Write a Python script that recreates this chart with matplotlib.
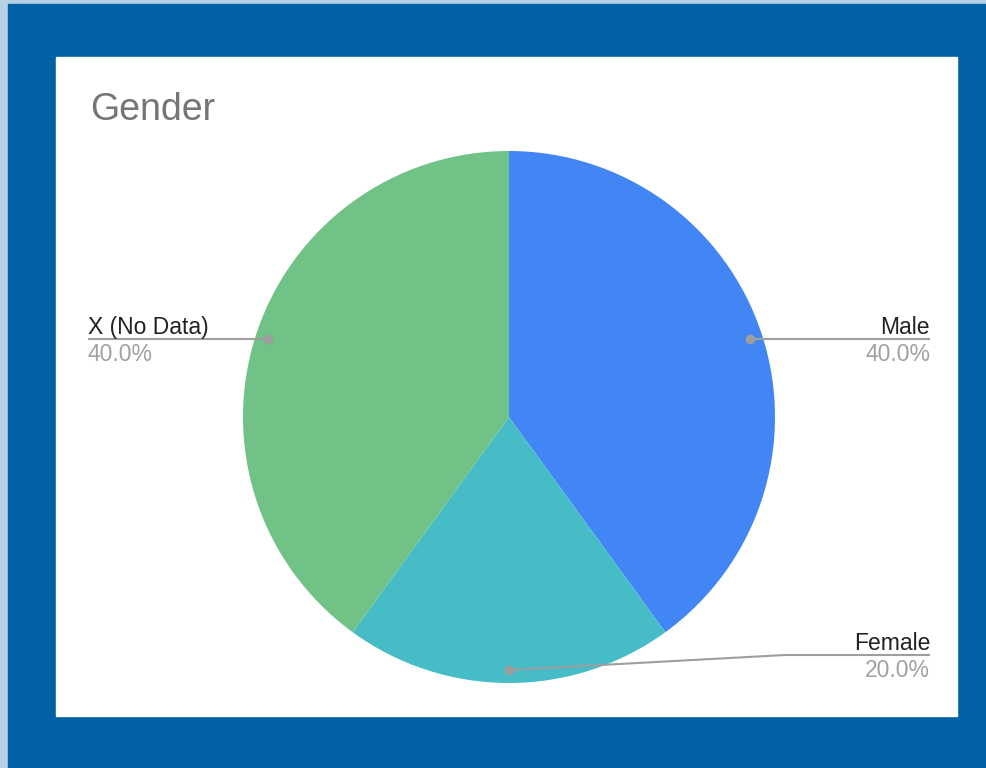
import matplotlib
matplotlib.use("Agg")
import matplotlib.pyplot as plt
from matplotlib.patches import Rectangle
import numpy as np

plt.rcParams["font.family"] = ["Liberation Sans", "DejaVu Sans"]

labels = ["Male", "Female", "X (No Data)"]
shares = [40.0, 20.0, 40.0]
colors = ["#4285F4", "#46BDC6", "#71C287"]

W, H = 986, 768


def Y(y_px):
    # work in top-down pixel rows, matplotlib wants bottom-up
    return H - y_px


fig = plt.figure(figsize=(W / 100, H / 100), dpi=100)
fig.patch.set_facecolor("#B7D1E6")
ax = fig.add_axes([0, 0, 1, 1])

# frame and white card
ax.add_patch(Rectangle((8, 0), W - 8, H - 4, color="#0062A5", zorder=0))
ax.add_patch(Rectangle((56, Y(716)), 957 - 56, 716 - 57, color="white", zorder=1))

cx, cy, R = 509, Y(417), 266
wedges, _ = ax.pie(shares, colors=colors, startangle=90, counterclock=False,
                   center=(cx, cy), radius=R, frame=True,
                   wedgeprops=dict(linewidth=0, zorder=2))
ax.set_xlim(0, W)
ax.set_ylim(0, H)
ax.set_aspect("equal")
ax.axis("off")

ax.text(90, Y(120), "Gender", fontsize=27, color="#757575", va="baseline", zorder=5)

# anchor dots at each wedge's mid-angle
total = sum(shares)
mids = []
acc = 0.0
for s in shares:
    frac = (acc + s / 2) / total
    ang = np.deg2rad(90 - 360 * frac)
    mids.append((cx + 0.951 * R * np.cos(ang), cy + 0.951 * R * np.sin(ang)))
    acc += s

line_kw = dict(color="#9E9E9E", lw=1.5, zorder=4, solid_capstyle="butt")
dot_kw = dict(color="#9E9E9E", ms=6, marker="o", zorder=5)
name_kw = dict(fontsize=16.5, color="#222222", va="baseline", zorder=5)
pct_kw = dict(fontsize=16.5, color="#A0A0A0", va="baseline", zorder=5)

# Male (right)
mx, my = mids[0]
ax.plot([mx, 930], [my, my], **line_kw)
ax.plot(mx, my, **dot_kw)
ax.text(930, my + 5, labels[0], ha="right", **name_kw)
ax.text(930, my - 22, f"{shares[0] / total:.1%}", ha="right", **pct_kw)

# Female (bottom, bent leader)
fx, fy = mids[1]
ax.plot([fx, 785, 930], [fy, Y(655), Y(655)], **line_kw)
ax.plot(fx, fy, **dot_kw)
ax.text(930, Y(655) + 5, labels[1], ha="right", **name_kw)
ax.text(930, Y(655) - 22, f"{shares[1] / total:.1%}", ha="right", **pct_kw)

# X (No Data) (left)
xx, xy = mids[2]
ax.plot([88, xx], [xy, xy], **line_kw)
ax.plot(xx, xy, **dot_kw)
ax.text(88, xy + 5, labels[2], ha="left", **name_kw)
ax.text(88, xy - 22, f"{shares[2] / total:.1%}", ha="left", **pct_kw)

fig.savefig("out.png", dpi=100, facecolor=fig.get_facecolor())
